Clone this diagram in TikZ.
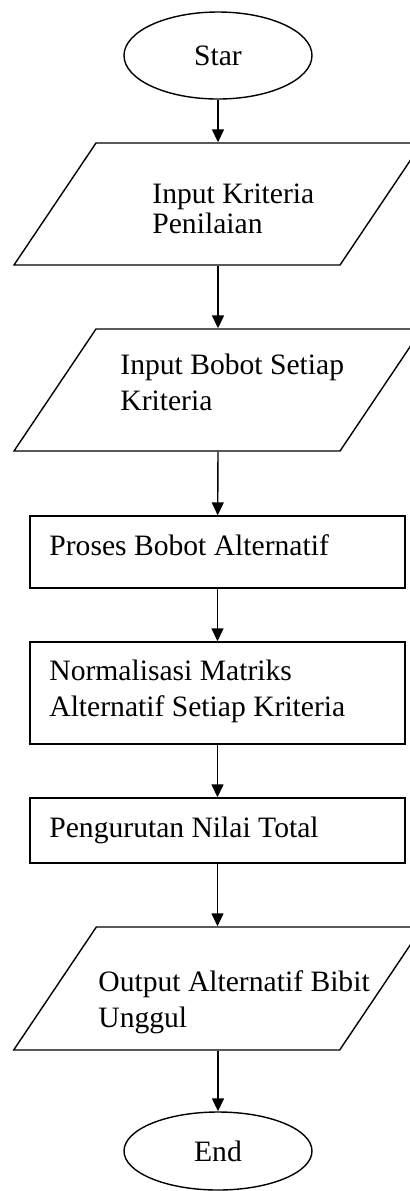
\documentclass[tikz,border=0pt]{standalone}
\usepackage{fontspec}
\setmainfont{Liberation Serif}
\usetikzlibrary{shapes.geometric,arrows.meta}
\begin{document}
\begin{tikzpicture}[x=0.5pt,y=-0.5pt,
  term/.style={ellipse, draw, line width=0.7pt, minimum width=94pt, inner sep=0pt, font=\fontsize{14.8}{18}\selectfont},
  io/.style={rectangle, draw, line width=0.7pt, minimum width=163pt, xslant=0.672, transform shape},
  proc/.style={rectangle, draw, line width=0.7pt, minimum width=187.5pt},
  lbl/.style={anchor=base west, align=left, inner sep=0pt, font=\fontsize{14.8}{18}\selectfont},
  flow/.style={-{Triangle[width=6pt,length=6.5pt]}, line width=0.7pt}]
\useasboundingbox (0,0) rectangle (410,1191);
\node[term, minimum height=43.5pt] (blk0) at (218,55.5){Star};
\node[io, minimum height=61pt] (blk1) at (218,204){};
\node[lbl] (lbl1) at (152,233){Input Kriteria\\[-3pt]Penilaian};
\node[io, minimum height=61pt] (blk2) at (218,390){};
\node[lbl] (lbl2) at (120,410){Input Bobot Setiap\\Kriteria};
\node[proc, minimum height=36pt] (blk3) at (217.5,552){};
\node[lbl] (lbl3) at (49,555){Proses Bobot Alternatif};
\node[proc, minimum height=51pt] (blk4) at (217.5,693){};
\node[lbl] (lbl4) at (49,716){Normalisasi Matriks\\Alternatif Setiap Kriteria};
\node[proc, minimum height=32.5pt] (blk5) at (217.5,830.5){};
\node[lbl] (lbl5) at (49,837){Pengurutan Nilai Total};
\node[io, minimum height=61.5pt] (blk6) at (218,988.5){};
\node[lbl] (lbl6) at (98,1027){Output Alternatif Bibit\\Unggul};
\node[term, minimum height=39pt] (blk7) at (218,1151){End};
\draw[flow](blk0) -- (blk0 |- blk1.north);
\draw[flow](blk1 |- blk1.south) -- (blk1 |- blk2.north);
\draw[flow](blk2 |- blk2.south) -- (blk3);
\draw[flow](blk3) -- (blk4);
\draw[flow](blk4) -- (blk5);
\draw[flow](blk5) -- (blk5 |- blk6.north);
\draw[flow](blk6 |- blk6.south) -- (blk7);
\end{tikzpicture}
\end{document}
